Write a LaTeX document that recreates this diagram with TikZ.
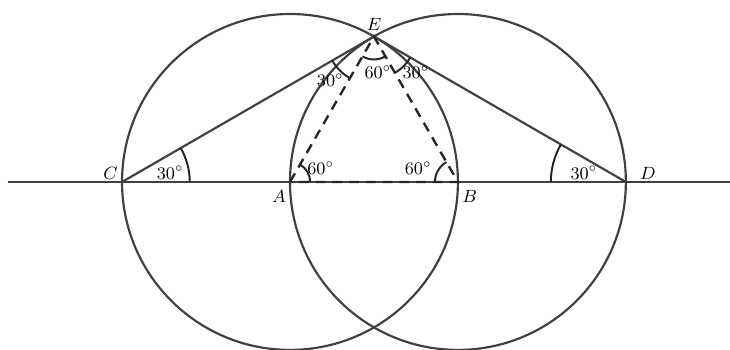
\documentclass[tikz,border=0pt]{standalone}
\usepackage{tikz}
\usetikzlibrary{positioning}

\begin{document}
\begin{tikzpicture}[
    line/.style={black!75,line width=1.1pt},
    dashline/.style={black!85,line width=1.2pt,dash pattern=on 5pt off 3.5pt},
    anglemark/.style={black!85,line width=1pt},
    lbl/.style={font=\small,inner sep=1pt}
  ]

  \def\R{3}   % radius of both circles (= AB)

  \useasboundingbox (-5.18,-3) rectangle (7.86,3.25);

  % Points
  \coordinate (A) at (0,0);
  \coordinate (B) at (\R,0);
  \coordinate (C) at (-\R,0);
  \coordinate (D) at (2*\R,0);
  \coordinate (E) at (60:\R);
  \coordinate (Lend) at (-5.04,0);
  \coordinate (Rend) at (7.86,0);

  % The two circles
  \draw[line] (A) circle (\R);
  \draw[line] (B) circle (\R);

  % Base line
  \draw[line] (Lend) -- (Rend);

  % Triangle CED
  \draw[line] (C) -- (E) -- (D);

  % Equilateral triangle ABE
  \draw[dashline] (A) -- (E) -- (B) -- cycle;

  % Angle marks
  \draw[anglemark] ([shift={(0:1.21)}]C) arc (0:30:1.21);
  \draw[anglemark] ([shift={(180:1.34)}]D) arc (180:150:1.34);
  \draw[anglemark] ([shift={(0:0.36)}]A) arc (0:60:0.36);
  \draw[anglemark] ([shift={(180:0.41)}]B) arc (180:120:0.41);
  \draw[anglemark] ([shift={(240:0.41)}]E) arc (240:300:0.41);
  \draw[anglemark] ([shift={(210:0.86)}]E) arc (210:240:0.86);
  \draw[anglemark] ([shift={(330:0.75)}]E) arc (330:300:0.75);

  % Point labels
  \node[lbl,above=2pt] (lE) at (E) {$E$};
  \node[lbl,above left=0pt and 1pt] (lC) at (C) {$C$};
  \node[lbl,above right=0pt and 6pt] (lD) at (D) {$D$};
  \node[lbl,below left=3pt and 1pt] (lA) at (A) {$A$};
  \node[lbl,below right=3pt and 1pt] (lB) at (B) {$B$};

  % Angle labels
  \node[lbl] (aC) at (-2.14,0.17) {$30^{\circ}$};
  \node[lbl] (aD) at (5.25,0.17) {$30^{\circ}$};
  \node[lbl] (aA) at (0.55,0.25) {$60^{\circ}$};
  \node[lbl] (aB) at (2.29,0.25) {$60^{\circ}$};
  \node[lbl] (aE) at (1.57,1.96) {$60^{\circ}$};
  \node[lbl] (aEl) at (0.72,1.82) {$30^{\circ}$};
  \node[lbl] (aEr) at (2.25,1.96) {$30^{\circ}$};

\end{tikzpicture}
\end{document}
